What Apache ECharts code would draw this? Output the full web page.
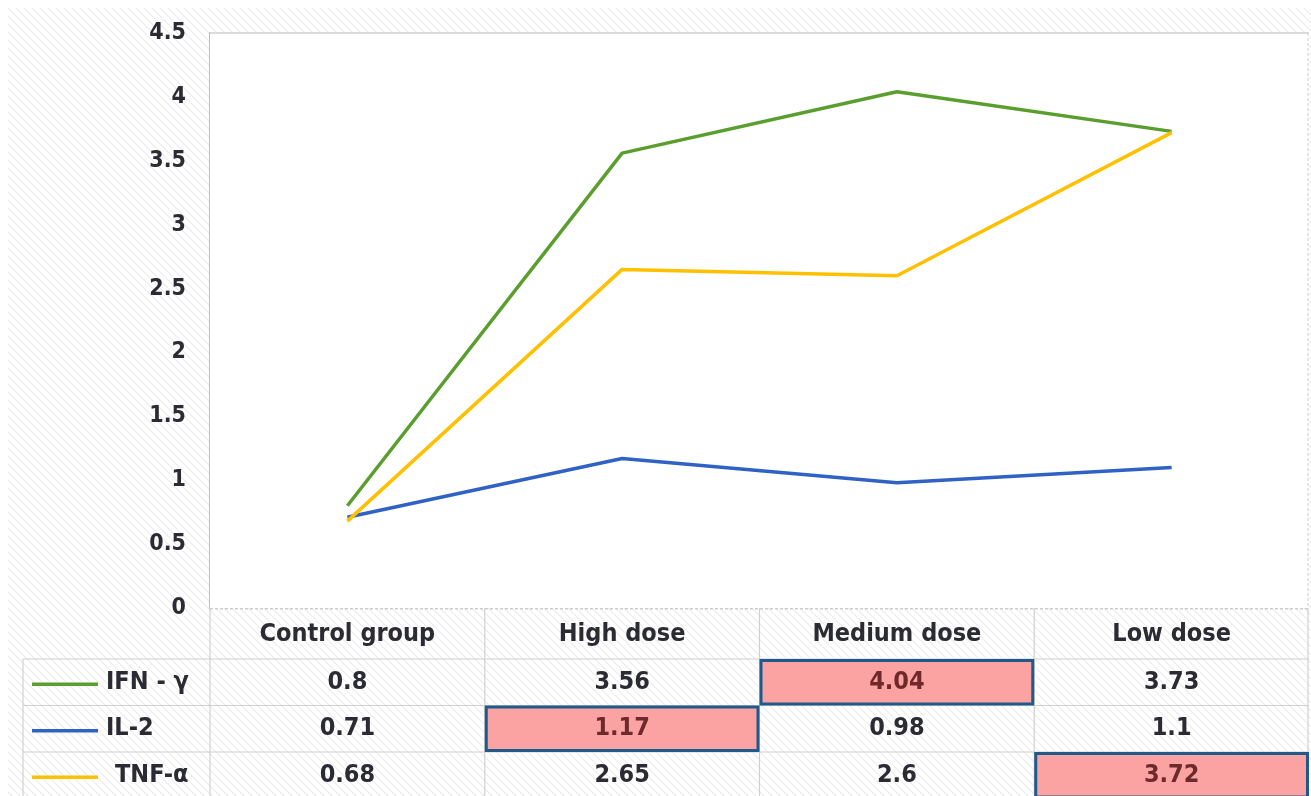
<!DOCTYPE html>
<html><head><meta charset="utf-8">
<script src="https://cdn.jsdelivr.net/npm/echarts@6/dist/echarts.min.js"></script>
<style>html,body{margin:0;padding:0;background:#fff}#c{width:1311px;height:796px}</style>
</head><body><div id="c"></div>
<script>
const categories = ['Control group', 'High dose', 'Medium dose', 'Low dose'];
const seriesNames = ['IFN - γ', 'IL-2', 'TNF-α'];
const ifn = [0.8, 3.56, 4.04, 3.73];
const il2 = [0.71, 1.17, 0.98, 1.1];
const tnf = [0.68, 2.65, 2.6, 3.72];
const yTicks = [0, 0.5, 1, 1.5, 2, 2.5, 3, 3.5, 4, 4.5];
const colors = ['#5a9e2e', '#2f62c4', '#ffc000'];
const highlight = [[0, 2], [1, 1], [2, 3]]; // [row, col]

const FONT = '"DejaVu Sans Condensed", "DejaVu Sans", Roboto, sans-serif';
const TXT = '#2b2b33';

function hatch() {
  const c = document.createElement('canvas');
  c.width = 8; c.height = 8;
  const g = c.getContext('2d');
  g.fillStyle = '#ffffff'; g.fillRect(0, 0, 8, 8);
  g.strokeStyle = '#ececec'; g.lineWidth = 1.2;
  g.beginPath();
  g.moveTo(0, 0); g.lineTo(8, 8);
  g.moveTo(-4, 4); g.lineTo(4, 12);
  g.moveTo(4, -4); g.lineTo(12, 4);
  g.stroke();
  return c;
}

const chart = echarts.init(document.getElementById('c'));
const data = [ifn, il2, tnf];
const option = {
  backgroundColor: '#ffffff',
  animation: false,
  grid: { left: 210, right: 2, top: 33, bottom: 188, show: true, backgroundColor: '#ffffff', borderWidth: 0, z: 1 },
  xAxis: {
    type: 'category', data: categories, boundaryGap: true,
    axisLine: { show: false }, axisTick: { show: false },
    splitLine: { show: false },
    axisLabel: { margin: 14, fontFamily: FONT, fontSize: 25, color: TXT, fontWeight: 'bold' }
  },
  yAxis: {
    type: 'value', min: 0, max: 4.5, interval: 0.5,
    axisLine: { show: true, lineStyle: { color: '#bfbfbf', width: 2 } },
    axisTick: { show: false },
    splitLine: { show: true, lineStyle: { color: '#c8c8c8', type: [3, 2], width: 1 } },
    axisLabel: { margin: 24, fontFamily: FONT, fontSize: 23, color: TXT, fontWeight: 'bold',
      formatter: v => String(yTicks.find(t => Math.abs(t - v) < 1e-9) ?? v) }
  },
  series: data.map((d, i) => ({
    name: seriesNames[i], type: 'line', data: d, showSymbol: false, symbol: 'none',
    lineStyle: { color: colors[i], width: 3.5 }, z: 5
  }))
};
chart.setOption(option);

function buildTable() {
  const xs = categories.map(c => chart.convertToPixel({ xAxisIndex: 0 }, c));
  const bw = xs[1] - xs[0];
  const y0 = chart.convertToPixel({ yAxisIndex: 0 }, 0);
  const yTop = chart.convertToPixel({ yAxisIndex: 0 }, 4.5);
  const left = xs[0] - bw / 2, right = xs[3] + bw / 2;
  const headH = 51, rowH = 46.5;
  const rowTops = [y0 + headH, y0 + headH + rowH, y0 + headH + 2 * rowH];
  const legL = 23;
  const els = [];
  const lc = '#d0d0d0';
  els.push({ type: 'rect', z: -10, shape: { x: 8, y: 8, width: 1311, height: 796 }, style: { fill: { image: hatch(), repeat: 'repeat' } }, silent: true });
  els.push({ type: 'rect', z: -9, shape: { x: left, y: yTop, width: right - left, height: y0 - yTop }, style: { fill: '#ffffff' }, silent: true });
  els.push({ type: 'line', z: 2, shape: { x1: left, y1: yTop, x2: right, y2: yTop }, style: { stroke: '#cfcfcf', lineWidth: 1.5 } });
  els.push({ type: 'line', z: 2, shape: { x1: right - 1, y1: yTop, x2: right - 1, y2: y0 }, style: { stroke: '#cfcfcf', lineWidth: 1, lineDash: [3, 2] } });
  els.push({ type: 'line', z: 2, shape: { x1: left, y1: y0 + 1, x2: right, y2: y0 + 1 }, style: { stroke: lc, lineWidth: 1, lineDash: [3, 2] } });
  rowTops.forEach(y => els.push({ type: 'line', z: 2, shape: { x1: legL, y1: y, x2: right, y2: y }, style: { stroke: lc, lineWidth: 1.2 } }));
  for (let k = 0; k <= categories.length; k++) {
    const x = left + k * bw - (k === categories.length ? 1 : 0);
    els.push({ type: 'line', z: 2, shape: { x1: x, y1: y0, x2: x, y2: 796 }, style: { stroke: lc, lineWidth: 1.2 } });
  }
  els.push({ type: 'line', z: 2, shape: { x1: legL, y1: rowTops[0], x2: legL, y2: 796 }, style: { stroke: lc, lineWidth: 1.2 } });
  highlight.forEach(([r, c]) => {
    els.push({ type: 'rect', z: 3, shape: { x: left + c * bw + 1.5, y: rowTops[r] + 1.5, width: bw - 3, height: rowH - 3 },
      style: { fill: '#fba3a3', stroke: '#1f5a8a', lineWidth: 3 } });
  });
  data.forEach((d, r) => {
    const cy = rowTops[r] + rowH / 2;
    els.push({ type: 'line', z: 4, shape: { x1: 32, y1: cy + 2, x2: 98, y2: cy + 2 }, style: { stroke: colors[r], lineWidth: 3.5 } });
    els.push({ type: 'text', z: 4, style: { text: seriesNames[r], x: r === 2 ? 115 : 106, y: cy, verticalAlign: 'middle', align: 'left',
      font: 'bold 25px ' + FONT, fill: TXT } });
    d.forEach((v, c) => {
      const hl = highlight.some(([hr, hc]) => hr === r && hc === c);
      els.push({ type: 'text', z: 4, style: { text: String(v), x: xs[c], y: cy, align: 'center', verticalAlign: 'middle',
        font: 'bold 25px ' + FONT, fill: hl ? '#6e2a2a' : TXT } });
    });
  });
  chart.setOption({ graphic: { elements: els } });
}
buildTable();
</script></body></html>
